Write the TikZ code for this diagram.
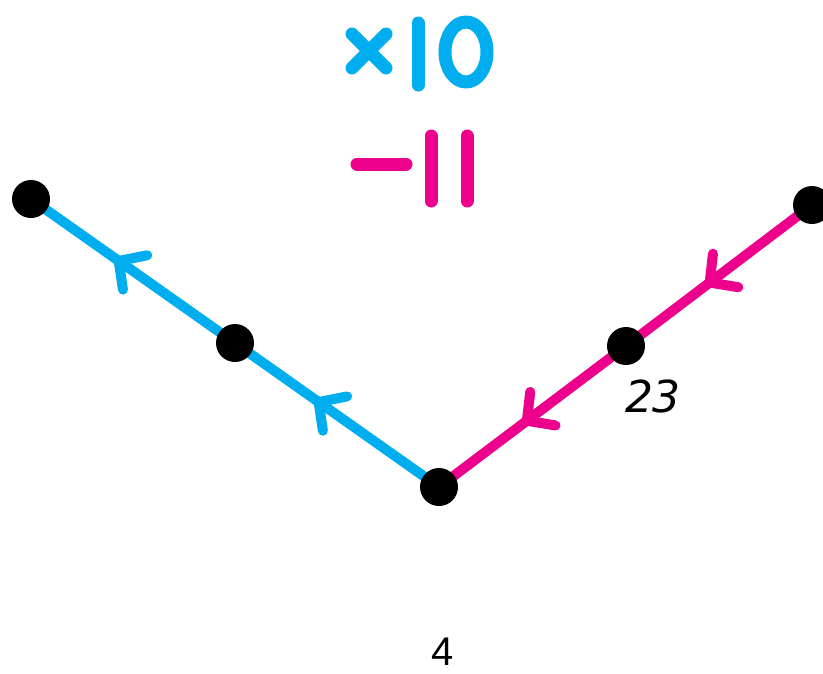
\documentclass[tikz,border=0pt]{standalone}
\usepackage{fontspec}
\setmainfont{Liberation Sans}
\newfontfamily\djv{DejaVu Sans}
\usetikzlibrary{decorations.markings}
\definecolor{cblue}{HTML}{00AEEF}
\definecolor{cmag}{HTML}{EC008C}
\tikzset{
  dot/.style={circle,fill=black,inner sep=0pt,minimum size=38pt},
  seg/.style={line width=10pt},
  chevat/.style={postaction={decorate,decoration={markings,
     mark=at position #1 with {\draw[line width=10pt,line cap=round,line join=round] (-20,21) -- (0,0) -- (-20,-21);}}}},
  glyph/.style={line width=13pt,line cap=round,line join=round}
}
\begin{document}
\begin{tikzpicture}[x=1pt,y=-1pt]
\useasboundingbox (0,0) rectangle (823,673);
\coordinate (a) at (31,199);
\coordinate (b) at (235,343);
\coordinate (c) at (439,487);
\coordinate (d) at (626,346);
\coordinate (e) at (812,205);
% connectors
\draw[seg,cblue,chevat=0.59] (c) -- (b);
\draw[seg,cblue,chevat=0.57] (b) -- (a);
\draw[seg,cmag,chevat=0.55] (e) -- (d);
\draw[seg,cmag,chevat=0.53] (d) -- (c);
% dots
\node[dot] (na) at (a) {};
\node[dot] (nb) at (b) {};
\node[dot] (nc) at (c) {};
\node[dot] (nd) at (d) {};
\node[dot] (ne) at (e) {};
% labels
\node[font=\djv\itshape\fontsize{44}{44}\selectfont,inner sep=0pt] (l23) at (653,396) {23};
\node[font=\fontsize{40}{40}\selectfont,inner sep=0pt,anchor=base] (l4) at (443,665) {4};
% hand-drawn x10
\draw[glyph,cblue] (352,34) -- (386,68) (386,34) -- (352,68);
\draw[glyph,cblue] (418,23) -- (418,85);
\draw[glyph,cblue] (466,52) ellipse [x radius=21, y radius=30];
% hand-drawn -11
\draw[glyph,cmag] (357,164) -- (406,164);
\draw[glyph,cmag] (431,136) -- (431,201);
\draw[glyph,cmag] (467,136) -- (467,201);
\end{tikzpicture}
\end{document}
